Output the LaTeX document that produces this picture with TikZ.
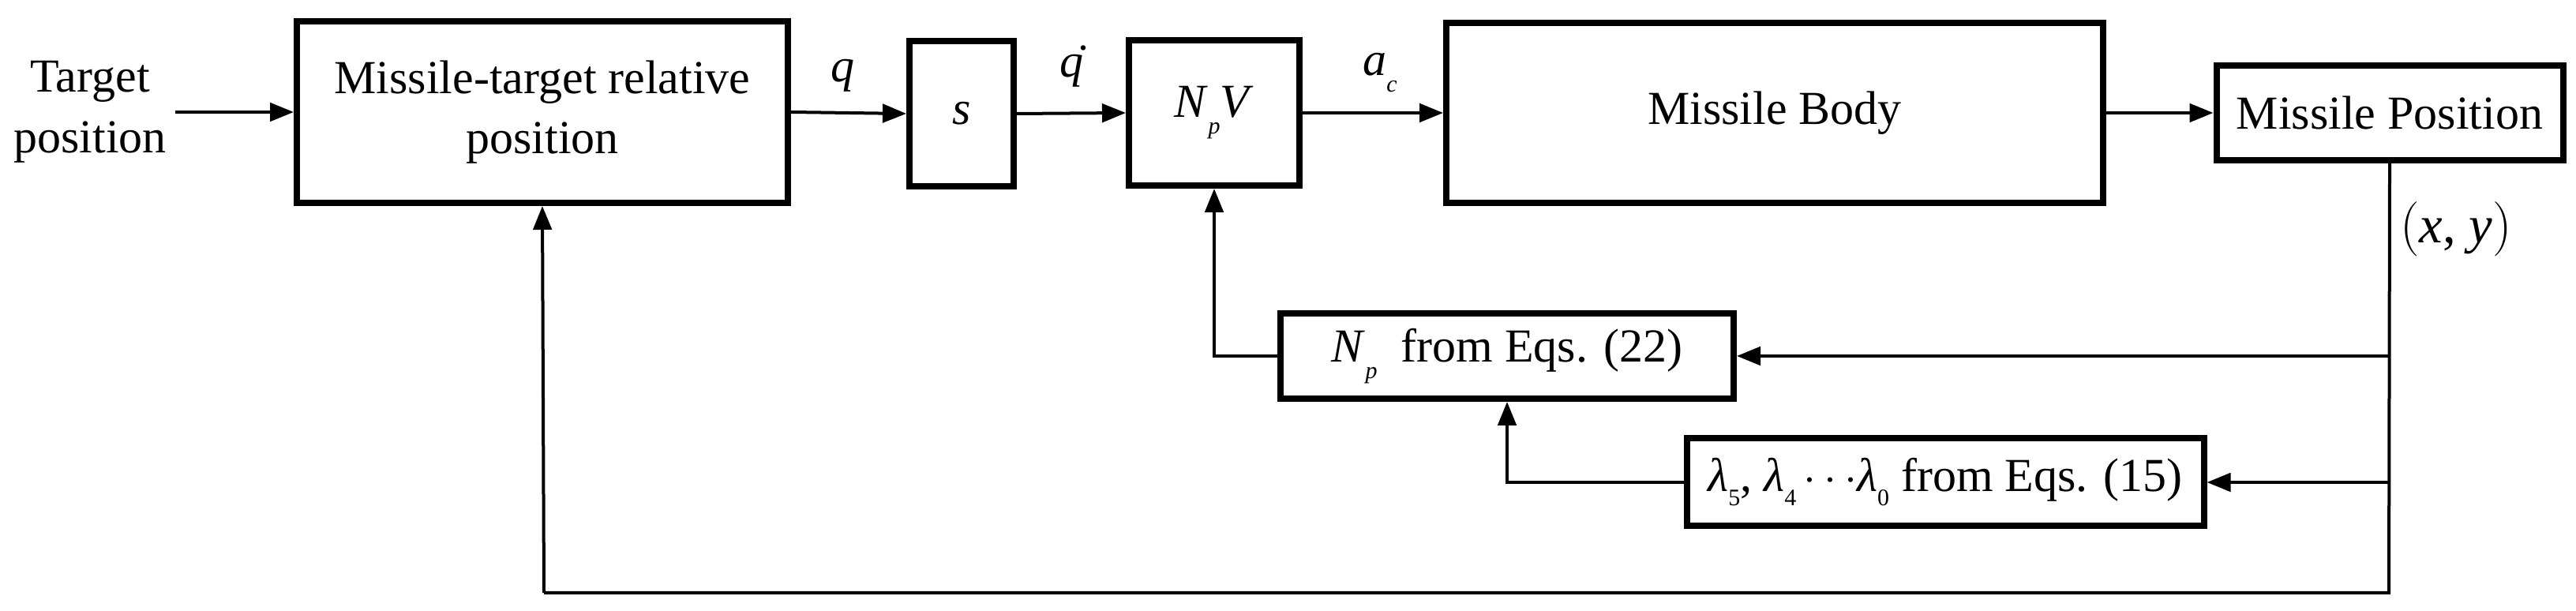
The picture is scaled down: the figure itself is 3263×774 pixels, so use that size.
\documentclass[tikz,border=0pt]{standalone}
\usepackage{fontspec}
\setmainfont{Liberation Serif}
\usetikzlibrary{arrows.meta}
\newcommand{\sub}[2]{\textit{#1}\raisebox{-0.35em}{\textit{\small #2}}}
\begin{document}
\begin{tikzpicture}[x=0.3pt,y=-0.3pt,font=\fontsize{18}{21}\selectfont,
  blk/.style={draw,line width=2.4pt,inner sep=0pt,align=center},
  ln/.style={line width=1.2pt},
  ar/.style={ln,-{Triangle[length=9pt,width=7pt]}}]
\useasboundingbox (0,0) rectangle (3263,774);
\node (tp) at (114,142) [align=center,font=\fontsize{18}{23}\selectfont] {Target\\position};
\node[blk,minimum width=622*0.3pt,minimum height=230*0.3pt,font=\fontsize{18}{23}\selectfont] (rel) at (687,142) {Missile-target relative\\position};
\node[blk,minimum width=132*0.3pt,minimum height=184*0.3pt] (s) at (1218,144) {\textit{s}};
\node[blk,minimum width=216*0.3pt,minimum height=184*0.3pt] (npv) at (1538,143) {\sub{N}{p}\textit{V}};
\node[blk,minimum width=832*0.3pt,minimum height=228*0.3pt] (body) at (2248,143) {Missile Body};
\node[blk,minimum width=439*0.3pt,minimum height=120*0.3pt] (pos) at (3027,143) {Missile Position};
\node[blk,minimum width=574*0.3pt,minimum height=108*0.3pt] (np) at (1909,451) {\sub{N}{p}\ \ from Eqs. (22)};
\node[blk,minimum width=655*0.3pt,minimum height=111*0.3pt] (lam) at (2464,611) {\textit{λ}\raisebox{-0.3em}{\small 5}, \textit{λ}\raisebox{-0.3em}{\small 4}$\,\cdots$\textit{λ}\raisebox{-0.3em}{\small 0} from Eqs. (15)};
\coordinate (tpe) at (222,142);
\coordinate (br) at (3026,451);
\coordinate (br2) at (3026,611);
\coordinate (br3) at (3026,751);
\coordinate (bl) at (689,751);
\draw[ar] (tpe) -- (rel.west);
\draw[ar] (rel.east) -- node[above,pos=0.45,yshift=4pt]{\textit{q}} (s.west);
\draw[ar] (s.east) -- node[above,yshift=6pt]{\.{\textit{q}}} (npv.west);
\draw[ar] (npv.east) -- node[above,pos=0.55,yshift=4pt]{\sub{a}{c}} (body.west);
\draw[ar] (body.east) -- (pos.west);
\draw[ln] (pos.south) -- (br3) -- (bl);
\draw[ar] (bl) -- (rel.south);
\draw[ar] (br) -- (np.east);
\draw[ar] (br2) -- (lam.east);
\draw[ar] (np.west) -| (npv.south);
\draw[ar] (lam.west) -| (np.south);
\node at (3111,290) {\fontsize{20}{24}\selectfont$\bigl($\textit{x}, \textit{y}$\bigr)$};
\end{tikzpicture}
\end{document}
